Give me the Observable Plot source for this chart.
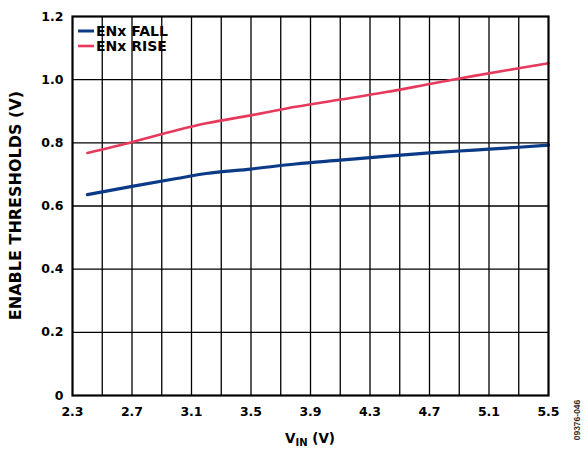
<!DOCTYPE html>
<html>
<head>
<meta charset="utf-8">
<script src="https://cdn.jsdelivr.net/npm/d3@7"></script>
<script src="https://cdn.jsdelivr.net/npm/@observablehq/plot@0.6"></script>
<style>
  html, body { margin: 0; padding: 0; background: #fff; }
  #chart svg { display: block; }
</style>
</head>
<body>
<div id="chart"></div>
<script>
// V_IN (V)
const vin = [2.4, 2.7, 3.0, 3.2, 3.5, 3.8, 4.1, 4.4, 4.7, 5.0, 5.3, 5.5];
// ENx FALL threshold (V)
const enFall = [0.636, 0.662, 0.687, 0.703, 0.717, 0.733, 0.745, 0.757, 0.768, 0.777, 0.786, 0.793];
// ENx RISE threshold (V)
const enRise = [0.768, 0.802, 0.840, 0.862, 0.887, 0.914, 0.937, 0.960, 0.986, 1.012, 1.036, 1.052];

const xTickLabels = [2.3, 2.7, 3.1, 3.5, 3.9, 4.3, 4.7, 5.1, 5.5];
const xGrid = [2.5, 2.7, 2.9, 3.1, 3.3, 3.5, 3.7, 3.9, 4.1, 4.3, 4.5, 4.7, 4.9, 5.1, 5.3];
const yTickLabels = [0, 0.2, 0.4, 0.6, 0.8, 1.0, 1.2];
const yGrid = [0.2, 0.4, 0.6, 0.8, 1.0];

const seriesNames = ["ENx FALL", "ENx RISE"];
const seriesColors = ["#0b3a87", "#e63a5c"];

const data = [];
vin.forEach((v, i) => data.push({vin: v, value: enFall[i], series: seriesNames[0]}));
vin.forEach((v, i) => data.push({vin: v, value: enRise[i], series: seriesNames[1]}));

const FONT = "DejaVu Sans";

const chart = Plot.plot({
  width: 588,
  height: 452,
  marginLeft: 72,
  marginRight: 40,
  marginTop: 16,
  marginBottom: 57,
  style: {fontFamily: FONT, fontSize: "12.5px", fontWeight: "bold", color: "#000", background: "#fff"},
  x: {domain: [2.3, 5.5], ticks: xTickLabels, tickSize: 0, tickPadding: 12, tickFormat: d => d.toFixed(1), label: null},
  y: {domain: [0, 1.2], ticks: yTickLabels, tickSize: 0, tickPadding: 9, tickFormat: d => d === 0 ? "0" : d.toFixed(1), label: null},
  color: {domain: seriesNames, range: seriesColors},
  marks: [
    Plot.gridX(xGrid, {stroke: "#000", strokeOpacity: 1, strokeWidth: 1.3}),
    Plot.gridY(yGrid, {stroke: "#000", strokeOpacity: 1, strokeWidth: 1.3}),
    Plot.line(data.filter(d => d.series === seriesNames[0]), {x: "vin", y: "value", stroke: "series", strokeWidth: 3.2, curve: "monotone-x"}),
    Plot.line(data.filter(d => d.series === seriesNames[1]), {x: "vin", y: "value", stroke: "series", strokeWidth: 2.6, curve: "monotone-x"}),
    Plot.frame({stroke: "#000", strokeWidth: 2.2})
  ]
});

document.getElementById("chart").appendChild(chart);

const svg = d3.select(chart);

// Legend
const legend = svg.append("g").attr("font-family", FONT).attr("font-weight", "bold").attr("font-size", "14px").attr("text-anchor", "start");
seriesNames.forEach((name, i) => {
  const y = 31 + i * 15;
  legend.append("line").attr("x1", 78).attr("x2", 94).attr("y1", y).attr("y2", y)
    .attr("stroke", seriesColors[i]).attr("stroke-width", i === 0 ? 3 : 2.6);
  legend.append("text").attr("x", 96).attr("y", y).attr("dy", "0.36em").attr("text-anchor", "start").attr("fill", "#000").text(name);
});

// Y axis label
svg.append("text")
  .attr("transform", "translate(20.5,205.5) rotate(-90)")
  .attr("text-anchor", "middle")
  .attr("font-family", FONT).attr("font-weight", "bold").attr("font-size", "16px")
  .attr("fill", "#000")
  .text("ENABLE THRESHOLDS (V)");

// X axis label with subscript
const xl = svg.append("text")
  .attr("x", 310).attr("y", 443)
  .attr("text-anchor", "middle")
  .attr("font-family", FONT).attr("font-weight", "bold").attr("font-size", "13.5px")
  .attr("fill", "#000");
xl.append("tspan").text("V");
xl.append("tspan").attr("font-size", "10px").attr("dy", "3").text("IN");
xl.append("tspan").attr("dy", "-3").text(" (V)");

// Figure ID
svg.append("text")
  .attr("transform", "translate(580,420) rotate(-90)")
  .attr("text-anchor", "middle")
  .attr("font-family", "Liberation Sans").attr("font-size", "8.5px")
  .attr("fill", "#333")
  .text("09376-046");
</script>
</body>
</html>
